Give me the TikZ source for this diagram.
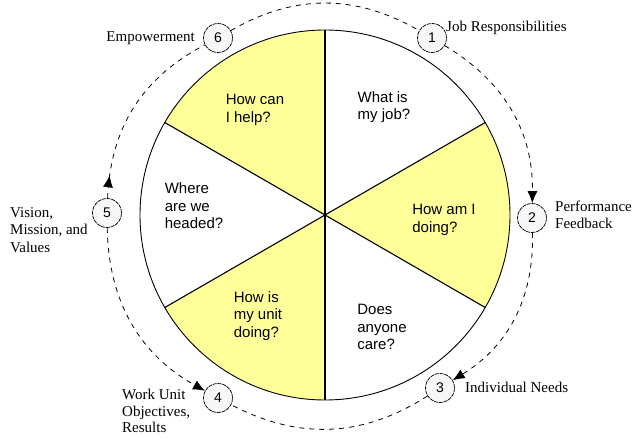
\documentclass[tikz,border=0pt]{standalone}
\usepackage{fontspec}
\setmainfont{Liberation Serif}
\newfontfamily\wheelfont{Liberation Sans}
\usetikzlibrary{arrows.meta,decorations.markings}
\definecolor{wheelyellow}{RGB}{255,255,153}
\definecolor{numgray}{RGB}{247,247,247}

\begin{document}
\begin{tikzpicture}[x=1pt,y=1pt]
  \useasboundingbox (0,0) rectangle (635,437);
  \tikzset{numcirc/.style={circle,draw,line width=0.7pt,dash pattern=on 4pt off 0.8pt,
             fill=numgray,minimum size=29pt,inner sep=0pt,
             font=\wheelfont\fontsize{14}{16}\selectfont},
           ring/.style={line width=0.8pt,dash pattern=on 5pt off 5pt},
           ringtip/.style={-{Latex[length=12pt,width=10pt]}},
           steplabel/.style={font=\fontsize{15}{17.5}\selectfont,align=left,inner sep=0pt},
           question/.style={font=\wheelfont\fontsize{15}{17.5}\selectfont,align=left,inner sep=0pt}}

 % the wheel
  \coordinate (wc) at (325,222);
  \foreach \a in {-30,90,210}
    \fill[wheelyellow] (wc) -- ([shift={(\a:185)}]wc) arc(\a:\a+60:185) -- cycle;
  \draw[line width=0.9pt] (wc) circle[radius=185];
  \foreach \a in {30,90,150}
    \draw[line width=1.1pt] ([shift={(\a:185)}]wc) -- ([shift={(\a+180:185)}]wc);

 % questions in the sectors
  \node[question] (qjob)  at (384,330) {What is\\my job?};
  \node[question] (qdo)   at (444,217) {How am I\\doing?};
  \node[question] (qcare) at (382,110) {Does\\anyone\\care?};
  \node[question] (qunit) at (258,121) {How is\\my unit\\doing?};
  \node[question] (qhead) at (194,231) {Where\\are we\\headed?};
  \node[question] (qhelp) at (255,327) {How can\\I help?};

 % numbered steps round the wheel
  \node[numcirc] (c1) at (432,399) {1};
  \node[numcirc] (c2) at (532,219) {2};
  \node[numcirc] (c3) at (440,49)  {3};
  \node[numcirc] (c4) at (218,39)  {4};
  \node[numcirc] (c5) at (107,224) {5};
  \node[numcirc] (c6) at (218,399) {6};

  \node[steplabel,anchor=west] (l1) at (446,409) {Job Responsibilities};
  \node[steplabel,anchor=west] (l2) at (555,222) {Performance\\Feedback};
  \node[steplabel,anchor=west] (l3) at (465,50)  {Individual Needs};
  \node[steplabel,anchor=north west,font=\fontsize{15}{16.5}\selectfont] (l4) at (122,48)
    {Work Unit\\Objectives,\\Results};
  \node[steplabel,anchor=west] (l5) at (10,207)  {Vision,\\Mission, and\\Values};
  \node[steplabel,anchor=east] (l6) at (195,399) {Empowerment};

 % dashed ring
  \draw[ring,ringtip] (c1) to[bend left=30] (c2);
  \draw[ring,ringtip] (c2) to[bend left=30] (c3);
  \draw[ring] (c3) to[bend left=30] (c4);
  \draw[ring,ringtip] (c5) to[bend right=30] (c4);
  \draw[ring, decoration={markings,
    mark=at position 0.12 with {\arrow{Latex[length=12pt,width=10pt]}}},
    postaction={decorate}] (c5) to[bend left=30] (c6);
  \draw[ring] (c6) to[bend left=30] (c1);
\end{tikzpicture}
\end{document}
